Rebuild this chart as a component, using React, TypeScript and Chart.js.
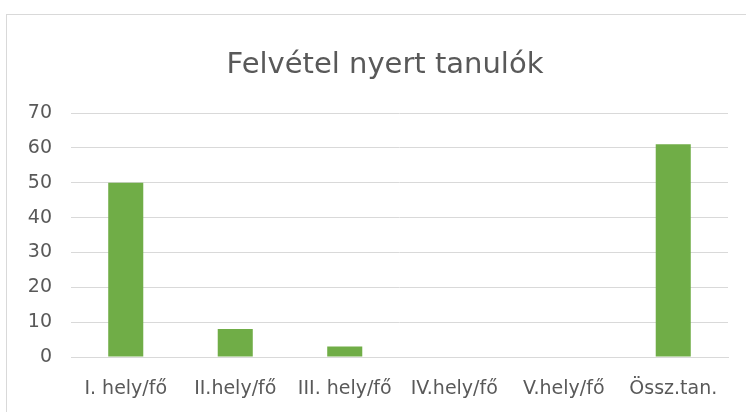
import React, { useEffect, useRef } from "react";
import { Chart, registerables } from "chart.js";

Chart.register(...registerables);

const categories = ["I. hely/fő", "II.hely/fő", "III. hely/fő", "IV.hely/fő", "V.hely/fő", "Össz.tan."];
const values = [50, 8, 3, 0, 0, 61];
const yTicks = [0, 10, 20, 30, 40, 50, 60, 70];
const titleText = "Felvétel nyert tanulók";

const FONT = "'DejaVu Sans', sans-serif";

const titlePlugin = {
  id: "offsetTitle",
  afterDraw(chart: any) {
    const ctx = chart.ctx;
    ctx.save();
    ctx.font = `normal 29px ${FONT}`;
    ctx.fillStyle = "#595959";
    ctx.textAlign = "center";
    ctx.textBaseline = "alphabetic";
    ctx.fillText(titleText, 385, 73);
    ctx.restore();
  },
};

export default function App() {
  const ref = useRef<HTMLCanvasElement | null>(null);
  useEffect(() => {
    if (!ref.current) return;
    const chart = new Chart(ref.current, {
      type: "bar",
      data: {
        labels: categories,
        datasets: [
          {
            data: values,
            backgroundColor: "#70ad47",
            categoryPercentage: 1,
            barPercentage: 0.32,
          },
        ],
      },
      options: {
        animation: false,
        responsive: false,
        maintainAspectRatio: false,
        layout: { padding: { left: 0, right: 18, top: 113, bottom: 0 } },
        plugins: {
          legend: { display: false },
          tooltip: { enabled: false },
          title: { display: false },
        },
        scales: {
          x: {
            grid: { display: false, drawTicks: false },
            border: { display: true, color: "#d9d9d9" },
            ticks: {
              color: "#595959",
              font: { family: FONT, size: 19 },
              padding: 21,
              maxRotation: 0,
              autoSkip: false,
            },
            afterFit: (s: any) => {
              s.height = 55;
            },
          },
          y: {
            min: 0,
            max: 70,
            afterBuildTicks: (s: any) => {
              s.ticks = yTicks.map((v) => ({ value: v }));
            },
            grid: { color: "#d9d9d9", drawTicks: false },
            border: { display: false },
            ticks: {
              color: "#595959",
              font: { family: FONT, size: 19 },
              padding: 19,
            },
            afterFit: (s: any) => {
              s.width = 71;
            },
          },
        },
      },
      plugins: [titlePlugin],
    });
    return () => chart.destroy();
  }, []);
  return (
    <div style={{ position: "absolute", left: 0, top: 0, width: 746, height: 412, background: "#fff", overflow: "hidden" }}>
      <div
        style={{
          position: "absolute",
          left: 6,
          top: 14,
          width: 800,
          height: 500,
          border: "1px solid #d9d9d9",
        }}
      />
      <canvas ref={ref} width={746} height={412} style={{ position: "absolute", left: 0, top: 0, width: 746, height: 412 }} />
    </div>
  );
}
